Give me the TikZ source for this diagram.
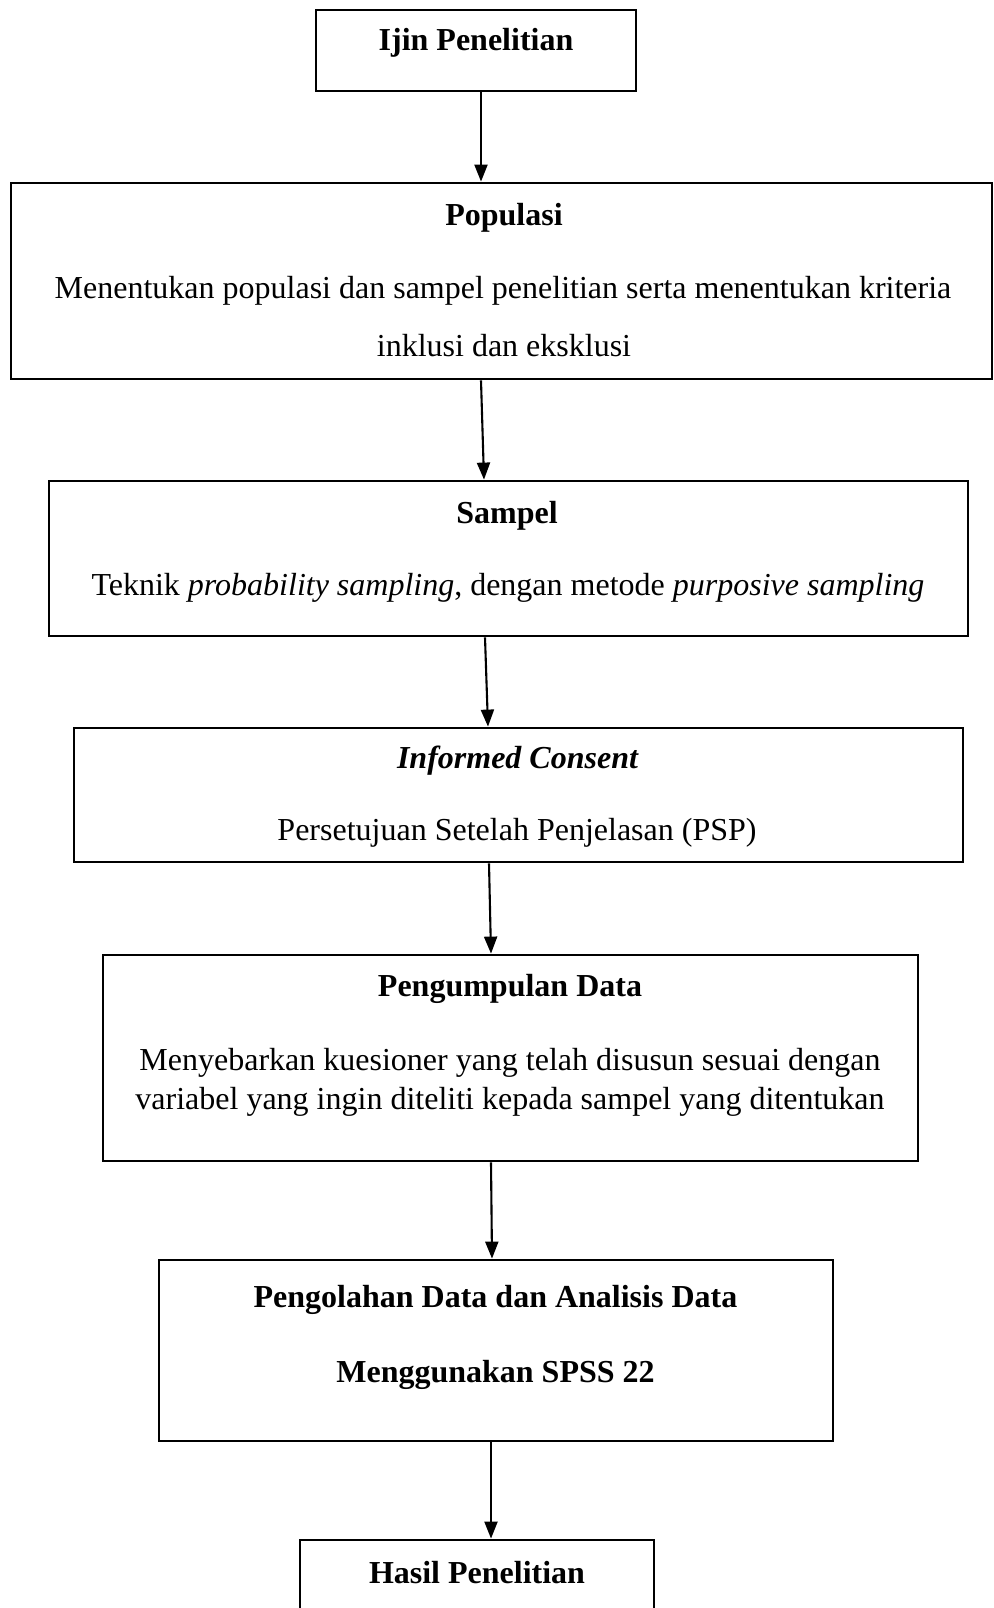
\documentclass[tikz,border=0pt]{standalone}
\usepackage{fontspec}
\setmainfont{Liberation Serif}
\usetikzlibrary{arrows.meta}

\begin{document}
\begin{tikzpicture}[x=1pt, y=-1pt,
    box/.style={draw, line width=2.8pt, inner sep=0pt},
    flow/.style={line width=2.1pt, -{Triangle[length=17pt,width=13pt]}},
    txt/.style={font=\fontsize{32}{39}\selectfont, inner sep=0pt, align=center}]
    \useasboundingbox (0,0) rectangle (993,1608);

    % boxes
    \node[box, minimum width=320pt, minimum height=81pt]  (ijin)     at (476,50.5)   {};
    \node[box, minimum width=981pt, minimum height=196pt] (populasi) at (501.5,281)  {};
    \node[box, minimum width=919pt, minimum height=155pt] (sampel)   at (508.5,558.5){};
    \node[box, minimum width=889pt, minimum height=134pt] (informed) at (518.5,795)  {};
    \node[box, minimum width=815pt, minimum height=206pt] (kumpul)   at (510.5,1058) {};
    \node[box, minimum width=674pt, minimum height=181pt] (olah)     at (496,1350.5) {};
    \node[box, minimum width=354pt, minimum height=120pt] (hasil)    at (477,1600)   {};

    % content
        \node[txt] (ijinT) at (476,43) {\bfseries Ijin Penelitian};
        \node[txt] (popT) at (504,218) {\bfseries Populasi};
        \node[txt] (popA) at (503,291) {Menentukan populasi dan sampel penelitian serta menentukan kriteria};
        \node[txt] (popB) at (504,346) {inklusi dan eksklusi};
        \node[txt] (sampT) at (507,516) {\bfseries Sampel};
        \node[txt] (sampA) at (508,588) {Teknik \textit{probability sampling}, dengan metode \textit{purposive sampling}};
        \node[txt] (infT) at (517.5,761) {\bfseries\itshape Informed Consent};
        \node[txt] (infA) at (517,833) {Persetujuan Setelah Penjelasan (PSP)};
        \node[txt] (kumT) at (510,989) {\bfseries Pengumpulan Data};
        \node[txt] (kumA) at (510,1082.5) {Menyebarkan kuesioner yang telah disusun sesuai dengan\\variabel yang ingin diteliti kepada sampel yang ditentukan};
        \node[txt] (olahT) at (495.5,1300) {\bfseries Pengolahan Data dan Analisis Data};
        \node[txt] (olahA) at (495.5,1375) {\bfseries Menggunakan SPSS 22};
        \node[txt] (hasilT) at (477,1573) {\bfseries Hasil Penelitian};

    % arrows
    \draw[flow] ([xshift=5pt]ijin.south) -- ([xshift=-20.5pt]populasi.north);
    \draw[flow] ([xshift=-20.5pt]populasi.south) -- ([xshift=-24.5pt]sampel.north);
    \draw[flow] ([xshift=-23.5pt]sampel.south) -- ([xshift=-30.5pt]informed.north);
    \draw[flow] ([xshift=-29.5pt]informed.south) -- ([xshift=-19.5pt]kumpul.north);
    \draw[flow] ([xshift=-19.5pt]kumpul.south) -- ([xshift=-4pt]olah.north);
    \draw[flow] ([xshift=-5pt]olah.south) -- ([xshift=14pt]hasil.north);
\end{tikzpicture}
\end{document}
